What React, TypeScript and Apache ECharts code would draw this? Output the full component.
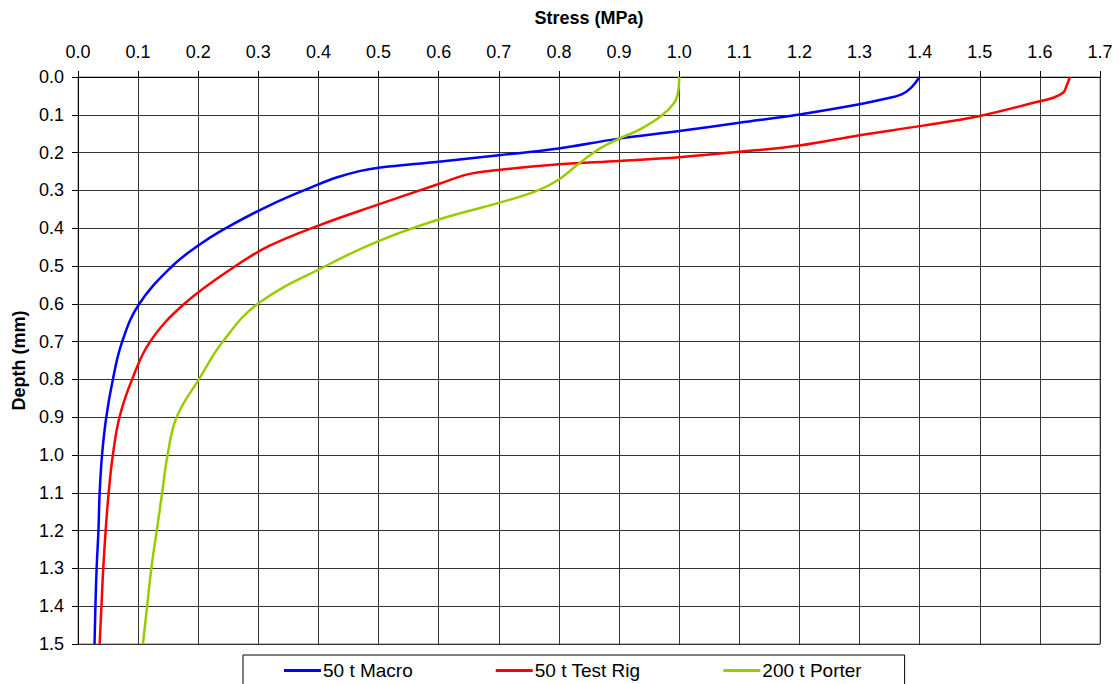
import React, { useEffect, useRef } from "react";
import * as echarts from "echarts";

// [stress (MPa), depth (mm)]
const macro50: [number, number][] = [
  [1.4, 0.0], [1.386, 0.028], [1.37, 0.046], [1.339, 0.059], [1.3, 0.072],
  [1.2, 0.099], [1.1, 0.121], [1.0, 0.143], [0.9, 0.163], [0.796, 0.19],
  [0.7, 0.207], [0.6, 0.224], [0.5, 0.24], [0.468, 0.249], [0.43, 0.266],
  [0.4, 0.284], [0.318, 0.34], [0.24, 0.405], [0.2, 0.446], [0.157, 0.5],
  [0.102, 0.6], [0.0735, 0.7], [0.058, 0.8], [0.047, 0.9], [0.04, 1.0],
  [0.036, 1.1], [0.034, 1.2], [0.031, 1.3], [0.029, 1.4], [0.0275, 1.5],
];

const testRig50: [number, number][] = [
  [1.65, 0.0], [1.644, 0.025], [1.639, 0.041], [1.622, 0.055], [1.6, 0.064],
  [1.5, 0.103], [1.4, 0.13], [1.3, 0.154], [1.2, 0.181], [1.1, 0.198],
  [1.0, 0.212], [0.9, 0.222], [0.8, 0.231], [0.7, 0.246], [0.65, 0.257],
  [0.6, 0.283], [0.5, 0.337], [0.4, 0.393], [0.318, 0.447], [0.262, 0.5],
  [0.177, 0.6], [0.12, 0.7], [0.09, 0.8], [0.069, 0.9], [0.058, 1.0],
  [0.051, 1.1], [0.046, 1.2], [0.042, 1.3], [0.039, 1.4], [0.036, 1.5],
];

const porter200: [number, number][] = [
  [1.0, 0.0], [0.998, 0.042], [0.992, 0.068], [0.97, 0.103], [0.934, 0.139],
  [0.9, 0.163], [0.867, 0.19], [0.835, 0.227], [0.8, 0.271], [0.762, 0.302],
  [0.7, 0.333], [0.6, 0.377], [0.5, 0.434], [0.412, 0.5],
  [0.299, 0.6], [0.241, 0.7], [0.201, 0.8], [0.164, 0.9], [0.149, 1.0],
  [0.14, 1.1], [0.131, 1.2], [0.122, 1.3], [0.115, 1.4], [0.108, 1.5],
];

const seriesNames = ["50 t Macro", "50 t Test Rig", "200 t Porter"];
const seriesColors = ["#0000ff", "#ff0000", "#99cc00"];

export default function App() {
  const ref = useRef<HTMLDivElement>(null);
  useEffect(() => {
    if (!ref.current) return;
    const chart = echarts.init(ref.current, undefined, { renderer: "svg" });
    const font = "'Liberation Sans', Arial, sans-serif";
    const datasets = [macro50, testRig50, porter200];
    chart.setOption({
      animation: false,
      backgroundColor: "#ffffff",
      textStyle: { fontFamily: font },
      grid: {
        left: 78,
        top: 77,
        width: 1022,
        height: 567,
        show: true,
        borderColor: "#808080",
        borderWidth: 1,
        backgroundColor: "transparent",
      },
      xAxis: {
        type: "value",
        position: "top",
        min: 0,
        max: 1.7,
        interval: 0.1,
        name: "Stress (MPa)",
        nameLocation: "middle",
        nameGap: 50,
        nameTextStyle: { fontSize: 18, fontWeight: "bold", color: "#000", fontFamily: font },
        axisLine: { show: true, lineStyle: { color: "#000", width: 1 } },
        axisTick: { show: true, length: 6, lineStyle: { color: "#000" } },
        axisLabel: {
          fontSize: 18,
          color: "#000",
          margin: 16,
          fontFamily: font,
          formatter: (v: number) => v.toFixed(1),
        },
        splitLine: { show: true, lineStyle: { color: "#333", width: 1 } },
      },
      yAxis: {
        type: "value",
        inverse: true,
        min: 0,
        max: 1.5,
        interval: 0.1,
        name: "Depth (mm)",
        nameLocation: "middle",
        nameGap: 50,
        nameTextStyle: { fontSize: 18, fontWeight: "bold", color: "#000", fontFamily: font },
        axisLine: { show: true, lineStyle: { color: "#000", width: 1 } },
        axisTick: { show: true, length: 6, lineStyle: { color: "#000" } },
        axisLabel: {
          fontSize: 18,
          color: "#000",
          margin: 14,
          fontFamily: font,
          formatter: (v: number) => v.toFixed(1),
        },
        splitLine: { show: true, lineStyle: { color: "#333", width: 1 } },
      },
      legend: {
        left: 243,
        top: 655,
        orient: "horizontal",
        data: seriesNames,
        icon: "rect",
        itemWidth: 37,
        itemHeight: 3,
        itemGap: 83,
        padding: [6, 43, 12, 41],
        borderColor: "#000",
        borderWidth: 1,
        backgroundColor: "#fff",
        textStyle: {
          fontSize: 19,
          color: "#000",
          padding: [0, 0, 0, -3],
          fontFamily: font,
        },
      },
      series: datasets.map((d, i) => ({
        name: seriesNames[i],
        type: "line",
        data: d,
        smooth: 0.4,
        showSymbol: false,
        symbol: "none",
        lineStyle: { color: seriesColors[i], width: 2.5 },
        itemStyle: { color: seriesColors[i] },
      })),
    });
    return () => chart.dispose();
  }, []);
  return (
    <div
      ref={ref}
      style={{ position: "fixed", left: 0, top: 0, width: 1119, height: 684 }}
    />
  );
}
